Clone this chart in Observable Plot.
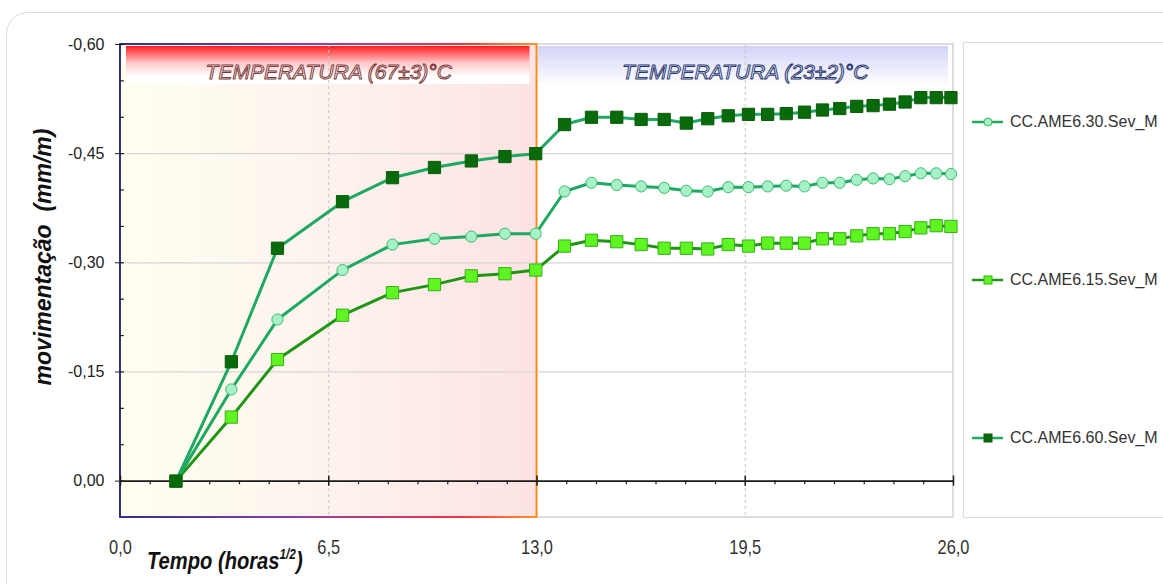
<!DOCTYPE html>
<html>
<head>
<meta charset="utf-8">
<script src="https://cdn.jsdelivr.net/npm/d3@7"></script>
<script src="https://cdn.jsdelivr.net/npm/@observablehq/plot@0.6"></script>
<style>
  html, body { margin: 0; padding: 0; background: #fff; }
  #wrap { position: relative; width: 1163px; height: 584px; overflow: hidden; font-family: "Liberation Sans", Arial, sans-serif; }
  #outer { position: absolute; left: 6px; top: 12px; width: 1220px; height: 640px; border: 1.5px solid #dcdcdc; border-radius: 22px; }
  #chart { position: absolute; left: 0; top: 0; }
  #legendBox { position: absolute; left: 963px; top: 42px; width: 260px; height: 474px; border: 1px solid #dedede; background: #fff; }
  .legItem { position: absolute; left: 970px; height: 20px; display: flex; align-items: center; font-size: 16px; color: #333; white-space: nowrap; }
  .legItem svg { margin-right: 5px; }
  #ytitle { position: absolute; left: 43px; top: 257px; transform: translate(-50%, -50%) rotate(-90deg); font-weight: bold; font-style: italic; font-size: 23px; color: #111; white-space: pre; }
  #xtitle { position: absolute; left: 147px; top: 547px; transform: scaleX(0.84); transform-origin: 0 0; font-weight: bold; font-style: italic; font-size: 24px; color: #111; white-space: nowrap; }
  #xtitle sup { font-size: 14px; vertical-align: 10px; line-height: 0; }
</style>
</head>
<body>
<div id="wrap">
  <div id="outer"></div>
  <div id="chart"></div>
  <div id="legendBox"></div>
  <div id="legend"></div>
  <div id="ytitle">movimentação  (mm/m)</div>
  <div id="xtitle">Tempo (horas<sup>1/2</sup>)</div>
</div>
<script>
// ---- data ----
const xValues = [1.73, 3.46, 4.90, 6.93, 8.49, 9.80, 10.95, 12.00, 12.96,
  13.86, 14.70, 15.49, 16.25, 16.97, 17.66, 18.33, 18.97, 19.60, 20.20, 20.78,
  21.35, 21.91, 22.45, 22.98, 23.49, 24.00, 24.49, 24.98, 25.46, 25.92];

const s630 = [0, -0.126, -0.222, -0.290, -0.325, -0.333, -0.336, -0.340, -0.340,
  -0.398, -0.410, -0.407, -0.405, -0.403, -0.399, -0.398, -0.404, -0.404, -0.405, -0.406,
  -0.405, -0.410, -0.410, -0.414, -0.416, -0.415, -0.419, -0.423, -0.423, -0.422];

const s615 = [0, -0.088, -0.167, -0.228, -0.259, -0.270, -0.282, -0.285, -0.290,
  -0.323, -0.331, -0.329, -0.325, -0.320, -0.320, -0.319, -0.325, -0.323, -0.327, -0.327,
  -0.327, -0.333, -0.333, -0.337, -0.340, -0.340, -0.343, -0.348, -0.351, -0.350];

const s660 = [0, -0.164, -0.320, -0.384, -0.417, -0.431, -0.440, -0.446, -0.450,
  -0.490, -0.500, -0.500, -0.497, -0.497, -0.492, -0.498, -0.502, -0.504, -0.504, -0.505,
  -0.507, -0.510, -0.512, -0.515, -0.516, -0.518, -0.521, -0.527, -0.527, -0.527];

const seriesNames = ["CC.AME6.30.Sev_M", "CC.AME6.15.Sev_M", "CC.AME6.60.Sev_M"];
const yTicks = [-0.60, -0.45, -0.30, -0.15, 0.00];
const xTicks = [0, 6.5, 13, 19.5, 26];
const regionLabels = ["TEMPERATURA (67±3)°C", "TEMPERATURA (23±2)°C"];
const regionBounds = [0, 13, 26];

// ---- derived tables ----
const yDomain = [0.05, -0.60];
const headerBottom = -0.545;
const regions = regionLabels.map((label, i) => ({label, x1: regionBounds[i], x2: regionBounds[i + 1]}));
const rows = vals => xValues.map((x, i) => ({x, y: vals[i]}));
const comma = (d, n) => d3.format(`.${n}f`)(d).replace(".", ",").replace("\u2212", "-");
const xMinor = d3.range(0, 26.001, 6.5 / 7).filter(v => !xTicks.some(t => Math.abs(t - v) < 1e-6));
const yMinor = d3.range(-0.60, 0.0001, 0.05);
const xLabelSet = new Set(xTicks.map(d => comma(d, 1)));

const styles = {
  [seriesNames[0]]: {vals: s630, line: "#1fa862", symbol: "circle", r: 5.6, fill: "#a6f1c8", stroke: "#3dbb6c"},
  [seriesNames[1]]: {vals: s615, line: "#1f9514", symbol: "square", r: 6.9, fill: "#5ef522", stroke: "#36b015"},
  [seriesNames[2]]: {vals: s660, line: "#1fa862", symbol: "square", r: 6.9, fill: "#086a0a", stroke: "#0a5c0a"}
};
const drawOrder = [seriesNames[1], seriesNames[0], seriesNames[2]];

const marks = [
  // backgrounds
  Plot.rect([regions[0]], {x1: "x1", x2: "x2", y1: yDomain[0], y2: yDomain[1], fill: "url(#hotBg)"}),
  Plot.rect([regions[0]], {x1: "x1", x2: "x2", y1: headerBottom, y2: yDomain[1], insetLeft: 6, insetRight: 7, insetTop: 2, fill: "url(#hotHead)"}),
  Plot.rect([regions[1]], {x1: "x1", x2: "x2", y1: headerBottom, y2: yDomain[1], insetLeft: 1, insetRight: 5, insetTop: 2, fill: "url(#coolHead)"}),
  // grid
  Plot.ruleY(yTicks.filter(d => d !== 0 && d !== -0.6), {stroke: "#d6d6d6", strokeWidth: 1.2}),
  Plot.ruleX(xTicks.filter(d => d > 0 && d < 26), {stroke: "#c4c4c4", strokeDasharray: "3,3"}),
  // frames
  Plot.rect([regions[1]], {x1: "x1", x2: "x2", y1: yDomain[0], y2: yDomain[1], fill: "none", stroke: "#d2d2d2", strokeWidth: 1.5}),
  Plot.rect([regions[0]], {x1: "x1", x2: "x2", y1: yDomain[0], y2: yDomain[1], fill: "none", stroke: "url(#hotBorder)", strokeWidth: 1.8}),
  // region titles
  Plot.text([regions[0]], {x: d => (d.x1 + d.x2) / 2, text: "label", frameAnchor: "top", lineAnchor: "middle", dy: 28, fontSize: 21, fontStyle: "italic",
    fill: "#fdf1f1", stroke: "#7c3a3a", strokeWidth: 1}),
  Plot.text([regions[1]], {x: d => (d.x1 + d.x2) / 2, text: "label", frameAnchor: "top", lineAnchor: "middle", dy: 28, fontSize: 21, fontStyle: "italic",
    fill: "#f2f3ff", stroke: "#283870", strokeWidth: 1}),
  // x axis line at zero with ticks
  Plot.ruleY([0], {stroke: "#1a1a1a", strokeWidth: 1.6}),
  Plot.ruleX(xMinor, {y1: 0, y2: 0.005, stroke: "#1a1a1a", strokeWidth: 1.2}),
  Plot.ruleX(xTicks, {y1: -0.007, y2: 0.007, stroke: "#1a1a1a", strokeWidth: 1.5}),
  Plot.ruleY(yMinor, {x1: 0, x2: 0.12, stroke: "#1a1a1a", strokeWidth: 1.2}),
  // axes labels
  Plot.axisY(yTicks, {tickFormat: d => comma(d, 2), tickSize: 5, tickPadding: 11, fontSize: 16, color: "#222", label: null}),
  Plot.text(xTicks, {x: d => d, text: d => comma(d, 1), frameAnchor: "bottom", lineAnchor: "middle", dy: 30, fontSize: 20, fill: "#333"})
];

for (const name of drawOrder) {
  const s = styles[name];
  const data = rows(s.vals);
  marks.push(Plot.line(data, {x: "x", y: "y", stroke: s.line, strokeWidth: 3}));
  marks.push(Plot.dot(data, {x: "x", y: "y", symbol: s.symbol, r: s.r, fill: s.fill, stroke: s.stroke, strokeWidth: 1}));
}

const chart = Plot.plot({
  width: 1163,
  height: 584,
  marginLeft: 120,
  marginRight: 210,
  marginTop: 44,
  marginBottom: 67,
  x: {domain: [0, 26], axis: null},
  y: {domain: yDomain, axis: null},
  style: {fontFamily: "'Liberation Sans', Arial, sans-serif", background: "transparent", overflow: "visible"},
  marks
});

const svg = d3.select(chart);
const defs = svg.insert("defs", ":first-child");
function grad(id, vertical, stops) {
  const g = defs.append("linearGradient").attr("id", id)
    .attr("x1", 0).attr("y1", 0).attr("x2", vertical ? 0 : 1).attr("y2", vertical ? 1 : 0);
  for (const [o, c] of stops) g.append("stop").attr("offset", o).attr("stop-color", c);
}
grad("hotBg", false, [[0, "#fffff0"], [0.5, "#fdf3ee"], [1, "#fde3e3"]]);
grad("hotHead", true, [[0, "#ff1e1e"], [0.45, "#ffcaca"], [0.8, "#ffffff"], [1, "#ffffff"]]);
grad("coolHead", true, [[0, "#d2d2f8"], [0.6, "#ececfd"], [1, "#fdfdff"]]);
grad("hotBorder", false, [[0, "#1c1c78"], [0.45, "#8a2a98"], [0.82, "#f52030"], [1, "#ff8a10"]]);

// narrow look for x tick labels; outline look for region titles
svg.selectAll("text").each(function() {
  const t = this.textContent;
  if (xLabelSet.has(t)) {
    const tr = this.getAttribute("transform");
    if (tr) {
      this.setAttribute("transform", tr + " scale(0.82,1)");
    } else {
      const x = +this.getAttribute("x") || 0, y = +this.getAttribute("y") || 0;
      this.setAttribute("x", 0); this.setAttribute("y", 0);
      this.setAttribute("transform", `translate(${x},${y}) scale(0.82,1)`);
    }
  } else if (regionLabels.includes(t)) {
    this.style.paintOrder = "normal";
  }
});

document.getElementById("chart").appendChild(chart);

// ---- legend ----
const legend = d3.select("#legend");
const legendTops = [122, 280, 438];
seriesNames.forEach((name, i) => {
  const s = styles[name];
  const item = legend.append("div").attr("class", "legItem").style("top", (legendTops[i] - 10) + "px");
  const sv = item.append("svg").attr("width", 35).attr("height", 20);
  sv.append("line").attr("x1", 2).attr("x2", 33).attr("y1", 10).attr("y2", 10).attr("stroke", s.line).attr("stroke-width", 2.5);
  if (s.symbol === "circle") {
    sv.append("circle").attr("cx", 18).attr("cy", 10).attr("r", 4).attr("fill", s.fill).attr("stroke", s.stroke);
  } else {
    sv.append("rect").attr("x", 14).attr("y", 6).attr("width", 8).attr("height", 8).attr("fill", s.fill).attr("stroke", s.stroke);
  }
  item.append("span").text(name);
});
</script>
</body>
</html>
